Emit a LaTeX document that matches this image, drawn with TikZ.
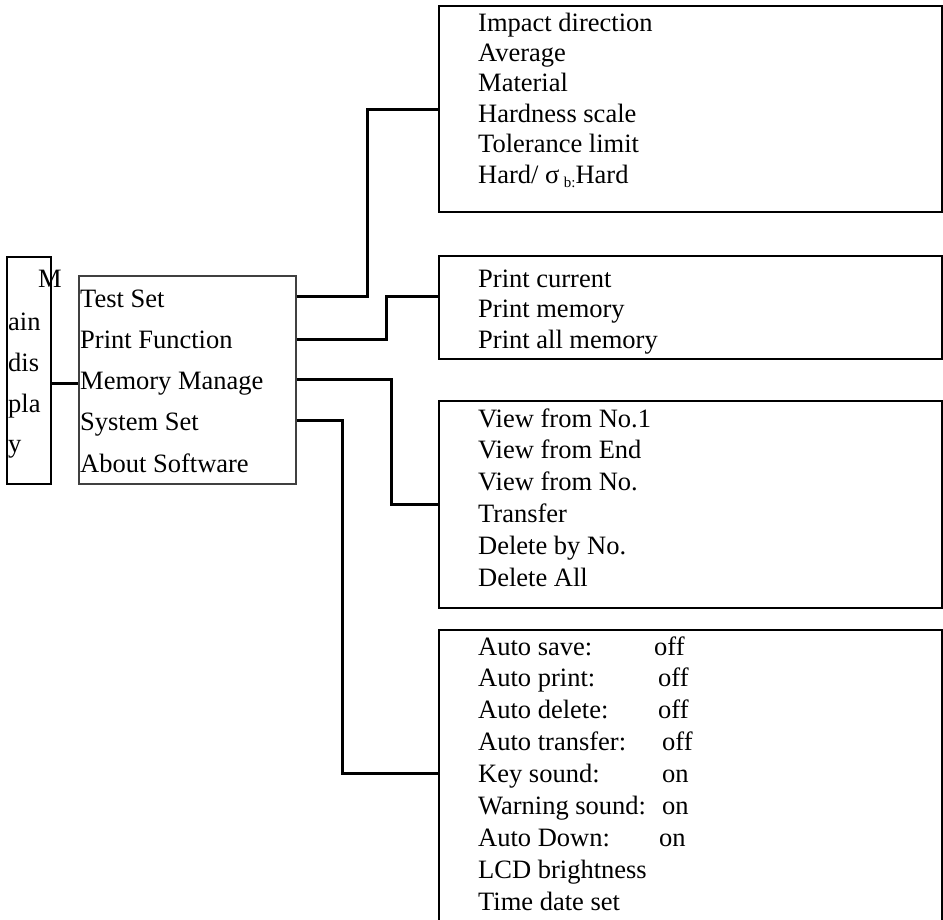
\documentclass[tikz,border=0pt]{standalone}
\usepackage{fontspec}
\setmainfont{Liberation Serif}
\begin{document}
\begin{tikzpicture}[x=1pt,y=-1pt,
  box/.style={draw, line width=2pt, inner sep=0pt, anchor=north west},
  menubox/.style={draw=black!75, line width=1.6pt, inner sep=0pt, anchor=north west},
  txt/.style={anchor=base west, inner sep=0pt, font=\fontsize{26.5}{26.5}\selectfont},
  conn/.style={line width=3pt}]
\useasboundingbox (0,0) rectangle (943,919);
% boxes
\node[box, minimum width=44pt, minimum height=227pt] (main) at (6,256) {};
\node[menubox, minimum width=217pt, minimum height=208pt] (menu) at (78,275) {};
\node[box, minimum width=503pt, minimum height=206pt] (b1) at (438,5) {};
\node[box, minimum width=503pt, minimum height=103pt] (b2) at (438,255) {};
\node[box, minimum width=503pt, minimum height=207pt] (b3) at (438,400) {};
\node[box, minimum width=503pt, minimum height=300pt] (b4) at (438,629) {};
% main display text
\node[txt] (mM) at (38,287) {M};
\node[txt] (m1) at (8,330) {ain};
\node[txt] (m2) at (8,371) {dis};
\node[txt] (m3) at (8,412) {pla};
\node[txt] (m4) at (8,452) {y};
% menu text
\foreach \s [count=\i] in {Test Set,Print Function,Memory Manage,System Set,About Software}
  \node[txt] (u\i) at (80,{307+41.3*(\i-1)}) {\s};
% box 1
\foreach \s [count=\i] in {Impact direction,Average,Material,Hardness scale,Tolerance limit}
  \node[txt] (a\i) at (478,{31+30.4*(\i-1)}) {\s};
\node[txt] (a6) at (478,183) {Hard/ σ\,\raisebox{-0.4ex}{\fontsize{15}{15}\selectfont b:}Hard};
% box 2
\foreach \s [count=\i] in {Print current,Print memory,Print all memory}
  \node[txt] (p\i) at (478,{287+30.5*(\i-1)}) {\s};
% box 3
\foreach \s [count=\i] in {View from No.1,View from End,View from No.,Transfer,Delete by No.,Delete All}
  \node[txt] (v\i) at (478,{427+31.8*(\i-1)}) {\s};
% box 4
\foreach \s/\vx/\v [count=\i] in {Auto save:/654/off,Auto print:/658/off,Auto delete:/658/off,Auto transfer:/662/off,Key sound:/662/on,Warning sound:/662/on,Auto Down:/659/on}
  {\node[txt] (s\i) at (478,{655+31.9*(\i-1)}) {\s};
   \node[txt] (sv\i) at (\vx,{655+31.9*(\i-1)}) {\v};}
\node[txt] (s8) at (478,{655+31.9*7}) {LCD brightness};
\node[txt] (s9) at (478,{655+31.9*8}) {Time date set};
% connectors
\draw[conn] (main.east |- 0,383) -- (menu.west |- 0,383);
\draw[conn] (menu.east |- 0,296) -- (367,296) |- (b1.west);
\draw[conn] (menu.east |- 0,339) -- (386,339) |- (b2.west |- 0,296);
\draw[conn] (menu.east |- 0,379) -- (391,379) |- (b3.west |- 0,504);
\draw[conn] (menu.east |- 0,420) -- (342,420) |- (b4.west |- 0,773);
\end{tikzpicture}
\end{document}
